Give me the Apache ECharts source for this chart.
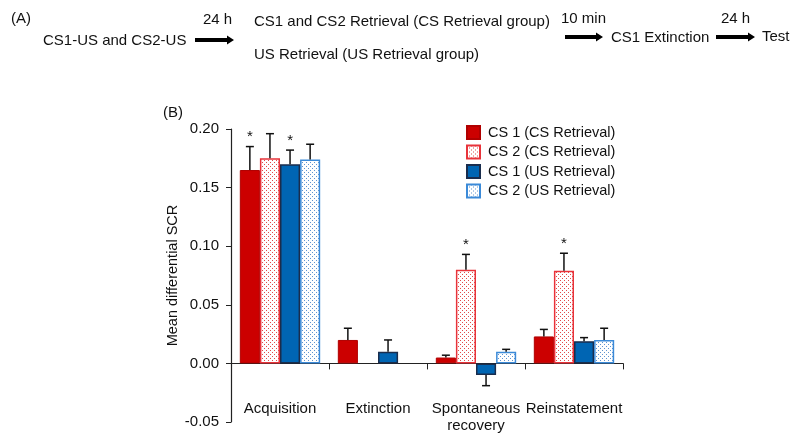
<!DOCTYPE html>
<html>
<head>
<meta charset="utf-8">
<script src="https://cdn.jsdelivr.net/npm/echarts@6/dist/echarts.min.js"></script>
<style>html,body{margin:0;padding:0;background:#fff}#c{width:800px;height:445px}</style>
</head>
<body>
<div id="c"></div>
<script>
// ---- data ----
const categories = ['Acquisition', 'Extinction', 'Spontaneous\nrecovery', 'Reinstatement'];
const seriesNames = ['CS 1 (CS Retrieval)', 'CS 2 (CS Retrieval)', 'CS 1 (US Retrieval)', 'CS 2 (US Retrieval)'];
const cs1CS = [0.165, 0.020, 0.005, 0.023];
const cs2CS = [0.175, null, 0.080, 0.079];
const cs1US = [0.170, 0.010, -0.010, 0.019];
const cs2US = [0.174, null, 0.010, 0.020];
const cs1CSErr = [0.020, 0.010, 0.002, 0.006];
const cs2CSErr = [0.021, null, 0.013, 0.015];
const cs1USErr = [0.012, 0.010, 0.009, 0.003];
const cs2USErr = [0.013, null, 0.002, 0.010];
const cs1CSStar = [1, 0, 0, 0];
const cs2CSStar = [0, 0, 1, 1];
const cs1USStar = [1, 0, 0, 0];
const cs2USStar = [0, 0, 0, 0];
const yTicks = [-0.05, 0.20, 0.05];

// ---- helpers ----
const FONT = 'Liberation Sans, Arial, sans-serif';
function dotPattern(dot) {
  const c = document.createElement('canvas');
  c.width = 4; c.height = 4;
  const g = c.getContext('2d');
  g.fillStyle = '#ffffff'; g.fillRect(0, 0, 4, 4);
  g.fillStyle = dot;
  g.fillRect(0, 0, 1, 1);
  g.fillRect(2, 2, 1, 1);
  return { image: c, repeat: 'repeat' };
}
const redDots = dotPattern('#e24a4a');
const blueDots = dotPattern('#5e93d0');

const values = [cs1CS, cs2CS, cs1US, cs2US];
const errs = [cs1CSErr, cs2CSErr, cs1USErr, cs2USErr];
const stars = [cs1CSStar, cs2CSStar, cs1USStar, cs2USStar];
const styles = [
  { color: '#cc0000', borderColor: '#b00000', borderWidth: 1 },
  { color: redDots, borderColor: '#e8333a', borderWidth: 1.5 },
  { color: '#0065b3', borderColor: '#1a2d4d', borderWidth: 1.5 },
  { color: blueDots, borderColor: '#3b8ad8', borderWidth: 1.5 }
];
const GAP = 0.18;

const errData = [];
values.forEach((arr, s) => arr.forEach((v, i) => {
  if (v !== null && errs[s][i] !== null) errData.push([i, s, v, errs[s][i], stars[s][i]]);
}));

const barSeries = values.map((arr, s) => ({
  name: seriesNames[s], type: 'bar', data: arr,
  barGap: '0%', barCategoryGap: (GAP * 100) + '%',
  itemStyle: styles[s], emphasis: { disabled: true }
}));

const errSeries = {
  type: 'custom', data: errData, z: 5, clip: false, silent: true,
  renderItem: function (params, api) {
    const cat = api.value(0), s = api.value(1), v = api.value(2), e = api.value(3), star = api.value(4);
    const band = api.size([1, 0])[0];
    const barW = band * (1 - GAP) / 4;
    const cx = api.coord([cat, 0])[0] + (s - 1.5) * barW;
    const sign = v < 0 ? -1 : 1;
    const y0 = api.coord([cat, v])[1];
    const y1 = api.coord([cat, v + sign * e])[1];
    const st = { stroke: '#111', lineWidth: 1.5 };
    const children = [
      { type: 'line', shape: { x1: cx, y1: y0, x2: cx, y2: y1 }, style: st },
      { type: 'line', shape: { x1: cx - 4, y1: y1, x2: cx + 4, y2: y1 }, style: st }
    ];
    if (star) children.push({ type: 'text', x: cx, y: y1 - 2,
      style: { text: '*', fontSize: 15, fontFamily: FONT, fill: '#111', align: 'center', verticalAlign: 'bottom' } });
    return { type: 'group', children: children };
  }
};

function txt(x, y, t, size) {
  return { type: 'text', x: x, y: y, style: { text: t, fontSize: size || 15, fontFamily: FONT, fill: '#111', verticalAlign: 'middle' } };
}
function arrow(x1, x2, y) {
  return { type: 'polygon', shape: { points: [[x1, y - 2], [x2 - 7, y - 2], [x2 - 7, y - 4.5], [x2, y], [x2 - 7, y + 4.5], [x2 - 7, y + 2], [x1, y + 2]] }, style: { fill: '#000' } };
}

const chart = echarts.init(document.getElementById('c'), null, { renderer: 'canvas' });
chart.setOption({
  animation: false,
  textStyle: { fontFamily: FONT },
  grid: { left: 231, right: 177, top: 129, bottom: 23, containLabel: false, outerBoundsMode: 'none' },
  legend: {
    orient: 'vertical', left: 466, top: 125, padding: 0, itemWidth: 13, itemHeight: 13, itemGap: 4.5,
    icon: 'rect', data: seriesNames, selectedMode: false,
    textStyle: { fontSize: 14.5, color: '#111', fontFamily: FONT, padding: [0, 0, 0, 3] }
  },
  xAxis: {
    type: 'category', data: categories,
    axisLine: { onZero: true, lineStyle: { color: '#222', width: 1.2 } },
    axisTick: { show: true, length: 6, lineStyle: { color: '#222' } },
    axisLabel: { fontSize: 15, color: '#111', margin: -22, lineHeight: 17, interval: 0, fontFamily: FONT },
    splitLine: { show: false }
  },
  yAxis: {
    type: 'value', min: yTicks[0], max: yTicks[1], interval: yTicks[2],
    name: 'Mean differential SCR', nameLocation: 'middle', nameGap: 43,
    nameTextStyle: { fontSize: 14.5, color: '#111', fontFamily: FONT },
    axisLine: { show: true, lineStyle: { color: '#222', width: 1.2 } },
    axisTick: { show: true, length: 5, lineStyle: { color: '#222' } },
    axisLabel: { fontSize: 15, color: '#111', margin: 12, fontFamily: FONT, formatter: v => v.toFixed(2) },
    splitLine: { show: false }
  },
  series: barSeries.concat([errSeries]),
  graphic: [
    txt(11, 19, '(A)'),
    txt(43, 41, 'CS1-US and CS2-US'),
    txt(203, 20, '24 h'),
    arrow(195, 234, 40),
    txt(254, 22, 'CS1 and CS2 Retrieval (CS Retrieval group)'),
    txt(254, 55, 'US Retrieval (US Retrieval group)'),
    txt(561, 19, '10 min'),
    arrow(565, 603, 37),
    txt(611, 38, 'CS1 Extinction'),
    txt(721, 19, '24 h'),
    arrow(716, 755, 37),
    txt(762, 37, 'Test'),
    txt(163, 113, '(B)')
  ]
});
</script>
</body>
</html>
